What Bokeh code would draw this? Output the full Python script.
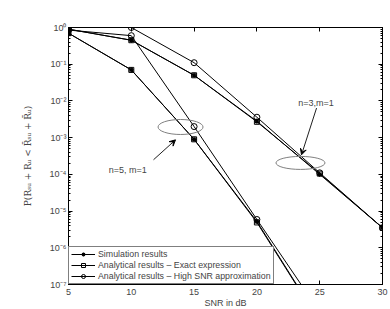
from bokeh.plotting import figure
from bokeh.models import (LinearAxis, LogAxis, FixedTicker, CustomJSTickFormatter,
                          Legend, LegendItem, Arrow, VeeHead, Label, Range1d)
from bokeh.embed import file_html
from bokeh.resources import INLINE

# ---- data ----
snr = [5, 10, 15, 20, 25, 30]
n3_sim = [0.9, 0.45, 0.05, 0.0028, 1.0e-4, 3.5e-6]
n3_exact = [0.9, 0.45, 0.05, 0.0027, 1.05e-4, 3.5e-6]
n3_approx = [1.0, 1.0, 0.11, 0.0036, 1.1e-4, 3.5e-6]
n5_sim = [0.7, 0.07, 9.0e-4, 5.2e-6, 1.0e-8, 2.0e-11]
n5_exact = [0.7, 0.07, 9.0e-4, 4.9e-6, 9.5e-9, 2.0e-11]
n5_approx = [0.85, 0.6, 2.0e-3, 5.9e-6, 1.8e-8, 4.0e-11]

x_ticks = [5, 10, 15, 20, 25, 30]
y_major = [1e-7, 1e-6, 1e-5, 1e-4, 1e-3, 1e-2, 1e-1, 1]
y_minor = [k * 10.0 ** e for e in range(-7, 0) for k in range(2, 10)]

legend_labels = ["Simulation results",
                 "Analytical results \u2013 Exact expression",
                 "Analytical results \u2013 High SNR approximation"]

# annotations
ell_x = [13.92, 23.47]
ell_y = [1.95e-3, 2.05e-4]
ell_w = [45, 49]
ell_h = [15, 13]
ann_text = ["n=5, m=1", "n=3,m=1"]
ann_tx = [8.2, 23.3]
ann_ty = [1.33e-4, 8.7e-3]
arr_start = [(11.77, 2.5e-4), (24.75, 6.4e-3)]
arr_end = [(13.52, 8.7e-4), (23.55, 3.4e-4)]

FONT = "Liberation Sans"

p = figure(frame_width=314, frame_height=257,
           min_border_left=68, min_border_right=8, min_border_top=27, min_border_bottom=24,
           x_range=Range1d(5, 30), y_range=Range1d(1e-7, 1), y_axis_type="log",
           output_backend="svg", toolbar_location=None)
p.grid.visible = False
p.outline_line_color = "black"
p.background_fill_color = "white"
p.border_fill_color = "white"

sup_code = """
const sup = {'0':'\u2070','1':'\u00b9','2':'\u00b2','3':'\u00b3','4':'\u2074','5':'\u2075','6':'\u2076','7':'\u2077','8':'\u2078','9':'\u2079','-':'\u207b'};
const e = Math.round(Math.log10(tick));
return '10' + String(e).split('').map(c => sup[c]).join('');
"""

yt = FixedTicker(ticks=y_major, minor_ticks=y_minor)
xt = FixedTicker(ticks=x_ticks)

def style_axis(ax, labels=True):
    ax.axis_line_color = "black"
    ax.major_tick_line_color = "black"
    ax.minor_tick_line_color = "black"
    ax.major_tick_in = 4
    ax.major_tick_out = 0
    ax.minor_tick_in = 2
    ax.minor_tick_out = 0
    ax.major_label_text_font = FONT
    if labels:
        ax.major_label_text_font_size = "9px"
    else:
        ax.major_label_text_font_size = "1px"
        ax.major_label_text_alpha = 0
        ax.major_label_standoff = 0
    ax.axis_label_text_font = FONT
    ax.axis_label_text_font_style = "normal"

xa = p.xaxis[0]
xa.ticker = xt
style_axis(xa)
xa.minor_tick_line_color = None
xa.major_label_standoff = 4
xa.axis_label = "SNR in dB"
xa.axis_label_text_font_size = "9px"
xa.axis_label_standoff = 0

ya = p.yaxis[0]
ya.ticker = yt
ya.formatter = CustomJSTickFormatter(code=sup_code)
style_axis(ya)
ya.major_label_standoff = 2
ya.axis_label = "P(R\u209b\u1d64 + R\u1d64 < R\u0304\u209b\u1d64 + R\u0304\u1d64)"
ya.axis_label_text_font = "DejaVu Serif"
ya.axis_label_text_font_size = "9px"
ya.axis_label_standoff = 14

top = LinearAxis(ticker=xt)
style_axis(top, labels=False)
top.minor_tick_line_color = None
p.add_layout(top, "above")
right = LogAxis(ticker=yt)
style_axis(right, labels=False)
p.add_layout(right, "right")

def series(y, marker, size):
    ln = p.line(snr, y, line_color="black", line_width=1)
    if marker == "circle":
        mk = p.scatter(snr, y, marker="circle", size=size, line_color="black", fill_color=None, line_width=1)
    elif marker == "square":
        mk = p.scatter(snr, y, marker="square", size=size, line_color="black", fill_color=None, line_width=1)
    else:
        mk = p.scatter(snr, y, marker="asterisk", size=size, line_color="black", line_width=1.2)
    return ln, mk

s3 = series(n3_sim, "asterisk", 5)
e3 = series(n3_exact, "square", 5)
a3 = series(n3_approx, "circle", 6)
s5 = series(n5_sim, "asterisk", 5)
e5 = series(n5_exact, "square", 5)
a5 = series(n5_approx, "circle", 6)

p.ellipse(x=ell_x, y=ell_y, width=ell_w, height=ell_h, width_units="screen", height_units="screen",
          fill_color=None, line_color="#808080", line_width=1)
for (x0, y0), (x1, y1) in zip(arr_start, arr_end):
    p.add_layout(Arrow(end=VeeHead(size=6, fill_color="black", line_color="black", line_width=1),
                       x_start=x0, y_start=y0, x_end=x1, y_end=y1,
                       line_color="#202020", line_width=1))
for t, tx, ty in zip(ann_text, ann_tx, ann_ty):
    p.add_layout(Label(x=tx, y=ty, text=t, text_font=FONT, text_font_size="9px",
                       text_baseline="middle", text_align="left"))

legend = Legend(items=[LegendItem(label=legend_labels[0], renderers=list(s3)),
                       LegendItem(label=legend_labels[1], renderers=list(e3)),
                       LegendItem(label=legend_labels[2], renderers=list(a3))],
                location=(0, 0), border_line_color="black", border_line_width=1,
                background_fill_alpha=1, padding=2, spacing=1, margin=0,
                label_text_font=FONT, label_text_font_size="8.8px",
                label_height=10, glyph_height=10, glyph_width=24, label_standoff=3)
p.add_layout(legend, "center")

open("out.html", "w").write(file_html(p, INLINE))
